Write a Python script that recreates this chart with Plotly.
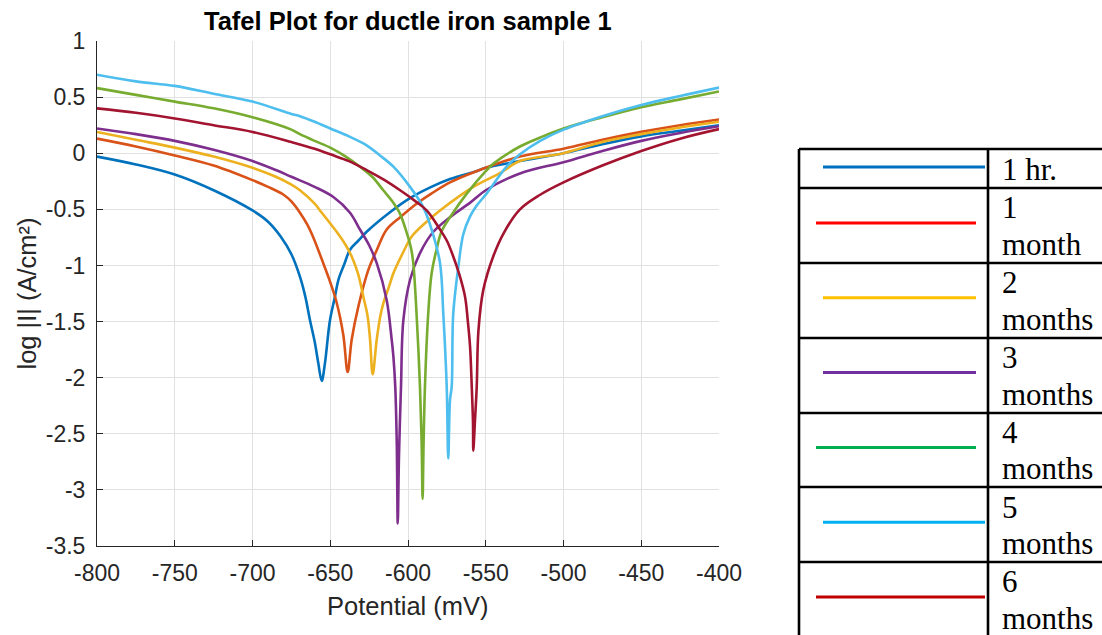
import plotly.graph_objects as go

# ---------------- data ----------------
series_names = ["1 hr.", "1 month", "2 months", "3 months", "4 months", "5 months", "6 months"]
line_colors = ["#0072BD", "#D95319", "#EDB120", "#7E2F8E", "#77AC30", "#4DBEEE", "#A2142F"]
legend_colors = ["#0070C0", "#FF0000", "#FFC000", "#7030A0", "#00B050", "#00B0F0", "#C00000"]

pot_1hr = [-800, -775, -750, -725, -700, -690, -682, -675, -669.5, -666, -663, -660, -657.7, -655.5,
           -653.4, -650.2, -647, -644.8, -641, -637.3, -632, -626.6, -612, -598.7, -585, -573, -556,
           -550, -528, -500, -475, -450, -425, -400]
log_1hr = [-0.03, -0.10, -0.19, -0.33, -0.51, -0.61, -0.74, -0.90, -1.10, -1.28, -1.49, -1.68, -1.87, -2.03,
           -1.87, -1.49, -1.28, -1.13, -0.99, -0.86, -0.78, -0.70, -0.53, -0.40, -0.30, -0.23, -0.16,
           -0.13, -0.07, 0.00, 0.08, 0.15, 0.20, 0.25]

pot_1m = [-800, -775, -750, -725, -700, -690, -680, -675, -669.5, -665, -660.9, -654.5, -650, -645.9, -641.6,
          -638.8, -636.2, -632, -625.5, -620, -613.7, -605, -594.5, -585, -573, -556, -528, -500, -475, -450,
          -425, -400]
log_1m = [0.13, 0.06, -0.02, -0.11, -0.24, -0.30, -0.37, -0.43, -0.53, -0.63, -0.75, -0.98, -1.15, -1.33, -1.62,
          -1.95, -1.66, -1.37, -1.04, -0.86, -0.68, -0.57, -0.45, -0.36, -0.26, -0.16, -0.03, 0.04, 0.12, 0.19,
          0.25, 0.30]

pot_2m = [-800, -775, -750, -725, -700, -685, -675, -669.5, -660, -656.6, -645.9, -640, -636.2, -632, -628.7,
          -626, -624.4, -622.7, -620.1, -617.8, -615.9, -612, -609.4, -603, -597.5, -588, -579.4, -558, -540,
          -528, -500, -475, -450, -425, -400]
log_2m = [0.19, 0.12, 0.05, -0.03, -0.13, -0.21, -0.28, -0.33, -0.45, -0.51, -0.70, -0.82, -0.92, -1.08, -1.28,
          -1.45, -1.66, -1.97, -1.66, -1.45, -1.34, -1.18, -1.07, -0.88, -0.74, -0.61, -0.51, -0.30, -0.17,
          -0.07, 0.00, 0.10, 0.17, 0.23, 0.28]

pot_3m = [-800, -775, -750, -725, -700, -685, -675, -660, -648, -637.3, -630.9, -625, -620.1, -613.7, -610.5,
          -609.4, -608.2, -607.2, -606.6, -605.8, -604.5, -603, -598.7, -592.3, -583.7, -573, -560, -550, -528,
          -500, -475, -450, -425, -400]
log_3m = [0.22, 0.17, 0.11, 0.03, -0.07, -0.15, -0.21, -0.30, -0.39, -0.53, -0.68, -0.82, -0.98, -1.31, -1.66,
          -1.81, -2.08, -2.60, -3.30, -2.70, -2.08, -1.49, -1.13, -0.89, -0.70, -0.57, -0.44, -0.33, -0.18,
          -0.08, 0.02, 0.11, 0.18, 0.24]

pot_4m = [-800, -775, -750, -725, -700, -675, -669.5, -660, -650, -640, -630.9, -623, -615.9, -610, -605.1,
          -600.8, -598, -596.6, -594.5, -592.3, -591.2, -590.6, -590, -589.1, -587, -584.8, -581.5, -578.5,
          -572, -562.2, -550, -544.8, -528, -515, -500, -475, -450, -425, -400]
log_4m = [0.58, 0.52, 0.46, 0.40, 0.32, 0.21, 0.17, 0.11, 0.05, -0.03, -0.12, -0.21, -0.33, -0.43, -0.54,
          -0.71, -0.85, -0.98, -1.43, -2.08, -2.60, -3.08, -2.60, -2.08, -1.43, -1.07, -0.85, -0.70,
          -0.55, -0.36, -0.16, -0.09, 0.06, 0.14, 0.22, 0.32, 0.41, 0.48, 0.55]

pot_5m = [-800, -775, -750, -725, -700, -675, -669.5, -660, -650, -638, -626.6, -618, -609.4, -598.7, -590.2,
          -584.8, -579.4, -577.3, -575.1, -574.1, -573, -571.9, -570.9, -567.6, -564.4, -560, -556, -549.5,
          -536.6, -528, -515, -500, -475, -450, -425, -400]
log_5m = [0.70, 0.64, 0.60, 0.53, 0.46, 0.35, 0.33, 0.28, 0.22, 0.15, 0.07, -0.02, -0.12, -0.30, -0.48,
          -0.68, -0.98, -1.43, -2.08, -2.72, -2.20, -2.08, -1.43, -1.01, -0.72, -0.56, -0.47, -0.36,
          -0.12, -0.01, 0.11, 0.21, 0.33, 0.43, 0.51, 0.585]

pot_6m = [-800, -775, -750, -725, -700, -675, -660, -650, -638, -626.6, -615, -605.1, -596, -588, -579.4, -575,
          -570.9, -567, -563.3, -561.5, -560.1, -559, -558.2, -558, -557, -555.8, -554.7, -551.6, -545.2, -538,
          -528, -515, -500, -475, -450, -425, -400]
log_6m = [0.40, 0.36, 0.31, 0.25, 0.19, 0.10, 0.04, -0.01, -0.07, -0.15, -0.24, -0.33, -0.42, -0.51, -0.68, -0.78,
          -0.92, -1.08, -1.28, -1.50, -1.72, -2.08, -2.40, -2.65, -2.40, -2.08, -1.58, -1.22, -0.92, -0.70,
          -0.50, -0.37, -0.26, -0.11, 0.02, 0.13, 0.215]

potentials = [pot_1hr, pot_1m, pot_2m, pot_3m, pot_4m, pot_5m, pot_6m]
log_currents = [log_1hr, log_1m, log_2m, log_3m, log_4m, log_5m, log_6m]

x_ticks = [-800, -750, -700, -650, -600, -550, -500, -450, -400]
x_tick_labels = ["-800", "-750", "-700", "-650", "-600", "-550", "-500", "-450", "-400"]
y_ticks = [1, 0.5, 0, -0.5, -1, -1.5, -2, -2.5, -3, -3.5]
y_tick_labels = ["1", "0.5", "0", "-0.5", "-1", "-1.5", "-2", "-2.5", "-3", "-3.5"]

title_text = "Tafel Plot for ductle iron sample 1"
x_title = "Potential (mV)"
y_title = "log |I| (A/cm²)"

# ---------------- layout constants (pixels) ----------------
W, H = 1102, 635
PL, PR, PT, PB = 97, 719, 41, 546  # plot area edges
SANS = "Liberation Sans, Arial, sans-serif"


def px(xp):
    return (xp - PL) / (PR - PL)


def py(yp):
    return (PB - yp) / (PB - PT)


fig = go.Figure()
for name, xs, ys, col in zip(series_names, potentials, log_currents, line_colors):
    fig.add_trace(go.Scatter(x=xs, y=ys, mode="lines", name=name,
                             line=dict(color=col, width=2.6, shape="spline", smoothing=1.0),
                             showlegend=False))

axis_common = dict(showgrid=True, gridcolor="#e1e1e1", gridwidth=1, zeroline=False,
                   showline=True, linecolor="#262626", linewidth=1, mirror=False,
                   ticks="inside", ticklen=6, tickwidth=1, tickcolor="#262626",
                   tickfont=dict(family=SANS, size=23, color="#262626"))

fig.update_xaxes(range=[-800, -400], tickvals=x_ticks, ticktext=x_tick_labels,
                 ticklabelstandoff=6, **axis_common)
fig.update_yaxes(range=[-3.5, 1], tickvals=y_ticks, ticktext=y_tick_labels,
                 ticklabelstandoff=6, **axis_common)

shapes = []
annotations = []

# title & axis titles
annotations.append(dict(text="<b>" + title_text + "</b>", xref="paper", yref="paper", x=0.5, y=py(21),
                        xanchor="center", yanchor="middle", showarrow=False,
                        font=dict(family=SANS, size=25.5, color="#000000")))
annotations.append(dict(text=x_title, xref="paper", yref="paper", x=0.5, y=py(606),
                        xanchor="center", yanchor="middle", showarrow=False,
                        font=dict(family=SANS, size=25.5, color="#262626")))
annotations.append(dict(text=y_title, xref="paper", yref="paper", x=px(26), y=0.5, textangle=-90,
                        xanchor="center", yanchor="middle", showarrow=False,
                        font=dict(family=SANS, size=25.5, color="#262626")))

# legend table
T_LEFT, T_MID, T_RIGHT = 799, 988, 1115
row_edges = [149, 188, 263, 338, 413, 487, 562, 645]
sample_x = [(823, 985), (816, 976), (823, 976), (823, 976), (816, 976), (823, 985), (816, 985)]
border = dict(color="#000000", width=2.6)
for ye in row_edges[:-1]:
    shapes.append(dict(type="line", xref="paper", yref="paper", x0=px(T_LEFT), x1=px(T_RIGHT),
                       y0=py(ye), y1=py(ye), line=border))
for xe in (T_LEFT, T_MID):
    shapes.append(dict(type="line", xref="paper", yref="paper", x0=px(xe), x1=px(xe),
                       y0=py(row_edges[0]), y1=py(row_edges[-1]), line=border))

text_font = dict(family="Liberation Serif, Times New Roman, serif", size=31, color="#000000")
for i, (name, col) in enumerate(zip(series_names, legend_colors)):
    if i == 0:
        ly = 167
        lines = [name]
        baselines = [180]
    else:
        ly = 223 + (i - 1) * 74.8
        lines = name.split(" ", 1)
        b0 = 218.3 + (i - 1) * 74.8
        baselines = [b0, b0 + 36.7]
    x0s, x1s = sample_x[i]
    shapes.append(dict(type="line", xref="paper", yref="paper", x0=px(x0s), x1=px(x1s),
                       y0=py(ly), y1=py(ly), line=dict(color=col, width=3)))
    for ln, bl in zip(lines, baselines):
        annotations.append(dict(text=ln, xref="paper", yref="paper", x=px(1000), y=py(bl - 10.5),
                                xanchor="left", yanchor="middle", showarrow=False, font=text_font))

fig.update_layout(width=W, height=H, autosize=False,
                  margin=dict(l=PL, r=W - PR, t=PT, b=H - PB, pad=0),
                  paper_bgcolor="#ffffff", plot_bgcolor="#ffffff",
                  shapes=shapes, annotations=annotations, showlegend=False)

fig.write_html("out.html")
